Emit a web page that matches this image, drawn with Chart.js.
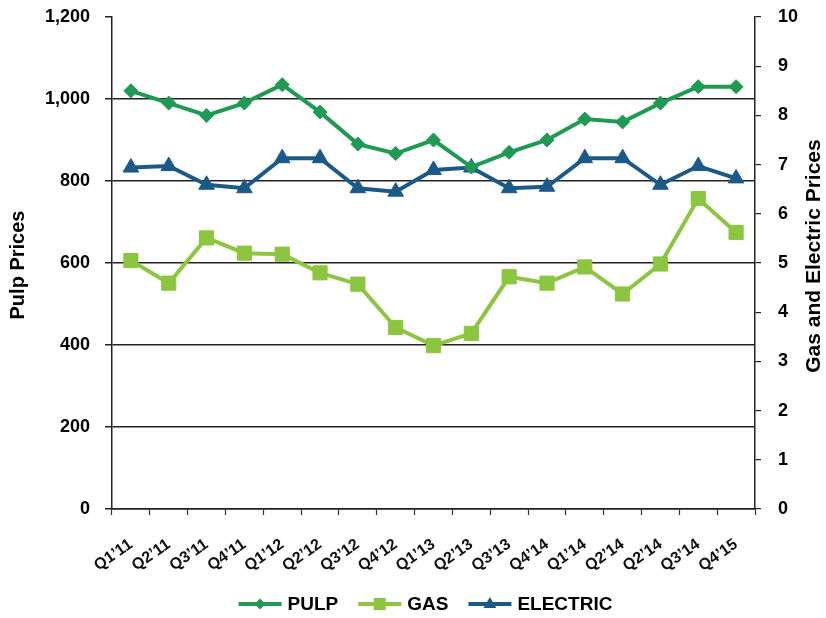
<!DOCTYPE html>
<html>
<head>
<meta charset="utf-8">
<script src="https://cdn.jsdelivr.net/npm/chart.js@4.4.1/dist/chart.umd.min.js"></script>
<style>
  html, body { margin: 0; padding: 0; background: #ffffff; }
  canvas { display: block; }
</style>
</head>
<body>
<canvas id="chart" width="826" height="618"></canvas>
<script>
// Quarterly categories (as printed on the axis)
const quarters = ["Q1\u201911", "Q2\u201911", "Q3\u201911", "Q4\u201911",
                  "Q1\u201912", "Q2\u201912", "Q3\u201912", "Q4\u201912",
                  "Q1\u201913", "Q2\u201913", "Q3\u201913", "Q4\u201914",
                  "Q1\u201914", "Q2\u201914", "Q2\u201914", "Q3\u201914", "Q4\u201915"];

// Pulp prices (left axis)
const pulpPrices = [1020, 990, 960, 990, 1035, 968, 890, 867, 900, 834, 870, 900, 951, 944, 990, 1030, 1030];

// Gas and electric prices (right axis)
const gasPrices = [5.05, 4.59, 5.51, 5.20, 5.18, 4.80, 4.57, 3.69, 3.32, 3.57, 4.72, 4.59, 4.92, 4.37, 4.98, 6.31, 5.62];
const electricPrices = [6.94, 6.97, 6.59, 6.52, 7.13, 7.13, 6.52, 6.45, 6.89, 6.94, 6.52, 6.55, 7.13, 7.13, 6.59, 6.97, 6.72];

// Axis ranges
const pulpAxis = { min: 0, max: 1200, step: 200 };
const priceAxis = { min: 0, max: 10, step: 1 };

const seriesNames = ["PULP", "GAS", "ELECTRIC"];
const axisTitles = { left: "Pulp Prices", right: "Gas and Electric Prices" };

const COLORS = { pulp: "#1f9a55", gas: "#8cc540", electric: "#1b5a88" };
const FONT = "'Liberation Sans', Arial, sans-serif";

Chart.defaults.font.family = FONT;
Chart.defaults.color = "#000";

// Fixed axis footprint so the plot area sits in a set place
function fixSize(size) {
  return scale => {
    if (scale.isHorizontal()) scale.height = size; else scale.width = size;
    scale.paddingTop = 0; scale.paddingBottom = 0;
    scale.paddingLeft = 0; scale.paddingRight = 0;
  };
}

// Axis titles and a line-and-marker legend below the plot
const decorations = {
  id: "decorations",
  afterDraw(chart) {
    const ctx = chart.ctx;
    const area = chart.chartArea;
    ctx.save();
    ctx.fillStyle = "#000";
    ctx.textAlign = "center";
    ctx.textBaseline = "middle";
    // left title
    ctx.font = "bold 20px " + FONT;
    ctx.save();
    ctx.translate(18, 265);
    ctx.rotate(-Math.PI / 2);
    ctx.fillText(axisTitles.left, 0, 0);
    ctx.restore();
    // right title
    ctx.font = "bold 21px " + FONT;
    ctx.save();
    ctx.translate(814, 256);
    ctx.rotate(-Math.PI / 2);
    ctx.fillText(axisTitles.right, 0, 0);
    ctx.restore();

    // legend
    ctx.font = "bold 19px " + FONT;
    const lineLen = 43, gapText = 6, gapItem = 20;
    const items = chart.data.datasets.map(ds => ({
      label: ds.label, color: ds.borderColor, style: ds.pointStyle,
      w: lineLen + gapText + ctx.measureText(ds.label).width
    }));
    const total = items.reduce((s, it) => s + it.w, 0) + gapItem * (items.length - 1);
    let x = (area.left + area.right) / 2 - 8 - total / 2;
    const y = 604;
    items.forEach(it => {
      ctx.strokeStyle = it.color;
      ctx.fillStyle = it.color;
      ctx.lineWidth = 4;
      ctx.beginPath();
      ctx.moveTo(x, y);
      ctx.lineTo(x + lineLen, y);
      ctx.stroke();
      const cx = x + lineLen / 2;
      ctx.beginPath();
      if (it.style === "rectRot") {
        ctx.moveTo(cx, y - 5.5); ctx.lineTo(cx + 5.5, y); ctx.lineTo(cx, y + 5.5); ctx.lineTo(cx - 5.5, y);
      } else if (it.style === "rect") {
        ctx.rect(cx - 6, y - 6, 12, 12);
      } else {
        ctx.moveTo(cx, y - 7); ctx.lineTo(cx + 6.5, y + 4); ctx.lineTo(cx - 6.5, y + 4);
      }
      ctx.closePath();
      ctx.fill();
      ctx.fillStyle = "#000";
      ctx.textAlign = "left";
      ctx.fillText(it.label, x + lineLen + gapText, y + 1);
      x += it.w + gapItem;
    });
    ctx.restore();
  }
};

new Chart(document.getElementById("chart"), {
  type: "line",
  data: {
    labels: quarters,
    datasets: [
      {
        label: seriesNames[0], data: pulpPrices, yAxisID: "y",
        borderColor: COLORS.pulp, backgroundColor: COLORS.pulp,
        borderWidth: 4, pointStyle: "rectRot", pointRadius: 7, pointBorderWidth: 1,
        tension: 0
      },
      {
        label: seriesNames[1], data: gasPrices, yAxisID: "y1",
        borderColor: COLORS.gas, backgroundColor: COLORS.gas,
        borderWidth: 4, pointStyle: "rect", pointRadius: 10, pointBorderWidth: 1,
        tension: 0
      },
      {
        label: seriesNames[2], data: electricPrices, yAxisID: "y1",
        borderColor: COLORS.electric, backgroundColor: COLORS.electric,
        borderWidth: 4, pointStyle: "triangle", pointRadius: 9, pointBorderWidth: 1,
        tension: 0
      }
    ]
  },
  options: {
    responsive: false,
    animation: false,
    layout: { padding: { top: 17, left: 0, right: 0, bottom: 0 } },
    plugins: { legend: { display: false }, tooltip: { enabled: false } },
    scales: {
      x: {
        offset: true,
        grid: { offset: true, drawOnChartArea: false, drawTicks: true, tickLength: 6, tickColor: "#333", tickWidth: 1.2 },
        border: { color: "#222", width: 1.5 },
        ticks: {
          autoSkip: false, maxRotation: 35, minRotation: 35, padding: 20,
          font: { size: 16, weight: "bold" }, color: "#111"
        },
        afterFit: fixSize(109)
      },
      y: {
        position: "left",
        min: pulpAxis.min, max: pulpAxis.max,
        grid: {
          drawTicks: true, tickLength: 7, lineWidth: 1.5,
          color: c => (c.tick && c.tick.value === pulpAxis.max) ? "rgba(0,0,0,0)" : "#222",
          tickColor: "#222"
        },
        border: { color: "#222", width: 1.5 },
        ticks: {
          stepSize: pulpAxis.step, padding: 15,
          font: { size: 18, weight: "bold" }, color: "#000",
          callback: v => v.toLocaleString("en-US")
        },
        afterFit: fixSize(112)
      },
      y1: {
        position: "right",
        min: priceAxis.min, max: priceAxis.max,
        grid: { drawOnChartArea: false, drawTicks: true, tickLength: 6, tickColor: "#222", lineWidth: 1.2 },
        border: { color: "#222", width: 1.5 },
        ticks: {
          stepSize: priceAxis.step, padding: 17,
          font: { size: 18, weight: "bold" }, color: "#000"
        },
        afterFit: fixSize(71)
      }
    }
  },
  plugins: [decorations]
});
</script>
</body>
</html>
